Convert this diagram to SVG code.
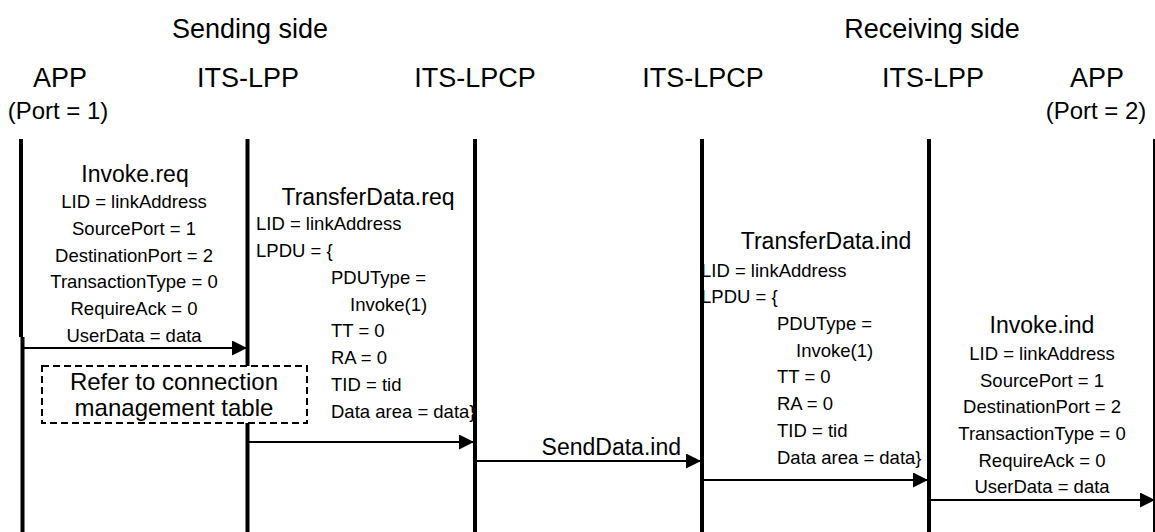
<svg xmlns="http://www.w3.org/2000/svg" width="1155" height="532" viewBox="0 0 1155 532">
<style>
text{font-family:"Liberation Sans",Arial,sans-serif;fill:#000}
.hdr{font-size:27px;text-anchor:middle}
.port{font-size:24px;text-anchor:middle}
.ttl{font-size:23px}
.c{text-anchor:middle}
.b{font-size:18.5px}
.life{stroke:#000;stroke-width:4;fill:none}
.msg{stroke:#000;stroke-width:2;fill:none;marker-end:url(#ah)}
</style>
<defs>
<marker id="ah" markerUnits="userSpaceOnUse" markerWidth="16" markerHeight="16" refX="15" refY="7.5" orient="auto">
<path d="M0,0 L15,7.5 L0,15 Z" fill="#000"/>
</marker>
</defs>
<rect width="1155" height="532" fill="#fff"/>
<g id="titles">
<text class="hdr" x="250" y="38">Sending side</text>
<text class="hdr" x="932" y="38">Receiving side</text>
</g>
<g id="lifelines">
<g id="app1"><text class="hdr" x="60" y="87">APP</text><text class="port" x="58" y="119">(Port = 1)</text><line class="life" x1="21" y1="139" x2="21" y2="337"/><line class="life" x1="22.5" y1="337" x2="22.5" y2="532"/></g>
<g id="lpp1"><text class="hdr" x="248" y="87">ITS-LPP</text><line class="life" x1="247.5" y1="139" x2="247.5" y2="532"/></g>
<g id="lpcp1"><text class="hdr" x="475" y="87">ITS-LPCP</text><line class="life" x1="475" y1="139" x2="475" y2="532"/></g>
<g id="lpcp2"><text class="hdr" x="703" y="87">ITS-LPCP</text><line class="life" x1="702" y1="139" x2="702" y2="532"/></g>
<g id="lpp2"><text class="hdr" x="933" y="87">ITS-LPP</text><line class="life" x1="929" y1="139" x2="929" y2="532"/></g>
<g id="app2"><text class="hdr" x="1097" y="87">APP</text><text class="port" x="1096" y="119">(Port = 2)</text><line class="life" x1="1155" y1="139" x2="1155" y2="532"/></g>
</g>
<g id="connectors">
<line class="msg" x1="22" y1="348" x2="247" y2="348"/>
<line class="msg" x1="249" y1="442" x2="474" y2="442"/>
<line class="msg" x1="476" y1="461" x2="701" y2="461"/>
<line class="msg" x1="703" y1="480" x2="928" y2="480"/>
<line class="msg" x1="930" y1="500" x2="1155" y2="500"/>
</g>
<g id="invoke-req">
<text class="ttl c" x="135" y="182">Invoke.req</text>
<text class="b c" x="134" y="208">LID = linkAddress</text>
<text class="b c" x="134" y="235">SourcePort = 1</text>
<text class="b c" x="134" y="261.5">DestinationPort = 2</text>
<text class="b c" x="134" y="288">TransactionType = 0</text>
<text class="b c" x="134" y="315">RequireAck = 0</text>
<text class="b c" x="134" y="341.5">UserData = data</text>
</g>
<g id="conn-table">
<rect x="42" y="366" width="265" height="57" fill="#fff" stroke="#000" stroke-width="2" stroke-dasharray="7 4"/>
<text class="c" x="174" y="390" font-size="24">Refer to connection</text>
<text class="c" x="174" y="416" font-size="24">management table</text>
</g>
<g id="transfer-req">
<text class="ttl c" x="368" y="205">TransferData.req</text>
<text class="b" x="256" y="230">LID = linkAddress</text>
<text class="b" x="256" y="257">LPDU = {</text>
<text class="b" x="331" y="284">PDUType =</text>
<text class="b" x="350" y="310.5">Invoke(1)</text>
<text class="b" x="331" y="337">TT = 0</text>
<text class="b" x="331" y="364">RA = 0</text>
<text class="b" x="331" y="390.5">TID = tid</text>
<text class="b" x="331" y="417.5">Data area = data}</text>
</g>
<g id="senddata-ind">
<text class="ttl" x="681" y="455" text-anchor="end">SendData.ind</text>
</g>
<g id="transfer-ind">
<text class="ttl c" x="826" y="249">TransferData.ind</text>
<text class="b" x="701" y="276.5">LID = linkAddress</text>
<text class="b" x="701" y="303">LPDU = {</text>
<text class="b" x="777" y="330">PDUType =</text>
<text class="b" x="796" y="356.5">Invoke(1)</text>
<text class="b" x="777" y="383">TT = 0</text>
<text class="b" x="777" y="410">RA = 0</text>
<text class="b" x="777" y="436.5">TID = tid</text>
<text class="b" x="777" y="463.5">Data area = data}</text>
</g>
<g id="invoke-ind">
<text class="ttl c" x="1042" y="333">Invoke.ind</text>
<text class="b c" x="1042" y="360">LID = linkAddress</text>
<text class="b c" x="1042" y="386.5">SourcePort = 1</text>
<text class="b c" x="1042" y="413">DestinationPort = 2</text>
<text class="b c" x="1042" y="440">TransactionType = 0</text>
<text class="b c" x="1042" y="466.5">RequireAck = 0</text>
<text class="b c" x="1042" y="493">UserData = data</text>
</g>
</svg>
